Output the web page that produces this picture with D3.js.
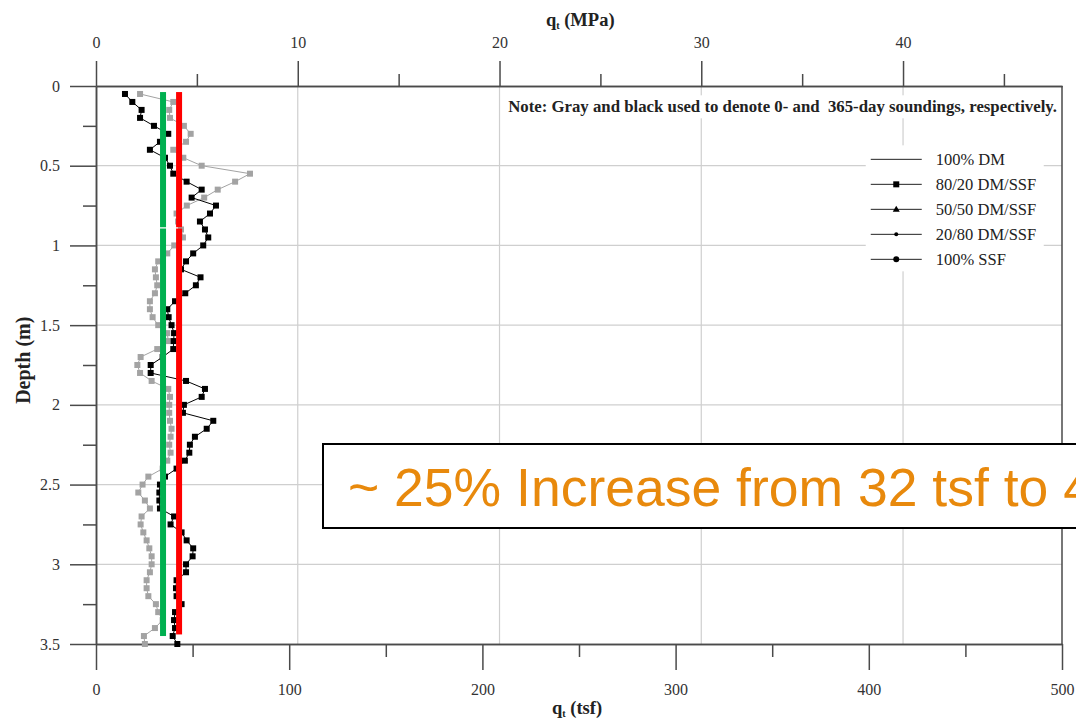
<!DOCTYPE html>
<html>
<head>
<meta charset="utf-8">
<script src="https://cdn.jsdelivr.net/npm/d3@7"></script>
<style>
  body { margin: 0; background: #fff; }
  svg { display: block; overflow: hidden; }
</style>
</head>
<body>
<div id="chart"></div>
<script>
// depth of each sounding reading (m)
const depths = [0.05,0.10,0.15,0.20,0.25,0.30,0.35,0.40,0.45,0.50,0.55,0.60,0.65,0.70,0.75,0.80,0.85,0.90,0.95,1.00,
  1.05,1.10,1.15,1.20,1.25,1.30,1.35,1.40,1.45,1.50,1.55,1.60,1.65,1.70,1.75,1.80,1.85,1.90,1.95,2.00,
  2.05,2.10,2.15,2.20,2.25,2.30,2.35,2.40,2.45,2.50,2.55,2.60,2.65,2.70,2.75,2.80,2.85,2.90,2.95,3.00,
  3.05,3.10,3.15,3.20,3.25,3.30,3.35,3.40,3.45,3.50];

// qt (tsf), 0-day sounding (gray)
const day0 = [22.8,40.0,37.9,38.3,45.5,49.0,46.6,40.0,45.2,54.7,79.7,72.0,63.0,56.0,47.0,41.7,42.5,44.0,45.0,40.5,
  36.9,32.2,30.5,31.0,31.7,30.5,27.9,27.9,29.3,32.2,36.9,37.4,31.7,23.1,21.4,22.8,28.8,37.4,38.3,37.9,
  37.9,38.3,39.1,38.6,37.9,38.6,36.9,34.5,27.1,24.1,21.9,25.3,27.9,23.6,23.1,24.5,26.2,27.6,28.8,28.8,
  27.9,26.2,26.2,27.1,31.0,32.2,34.5,30.5,24.8,25.3];

// qt (tsf), 365-day sounding (black)
const day365 = [15.0,18.8,23.6,22.8,30.0,37.4,33.1,27.9,35.7,38.3,40.0,46.9,54.7,49.5,62.1,59.0,53.8,56.4,58.1,55.5,
  50.3,46.6,44.0,54.1,51.7,46.2,40.9,36.9,37.6,39.1,40.4,40.2,40.0,34.5,28.3,28.3,46.6,56.4,54.7,45.5,
  45.0,60.7,57.3,51.2,48.6,48.3,46.0,41.7,35.7,33.1,32.8,32.8,33.1,40.4,38.6,44.3,46.9,50.3,50.0,46.6,
  46.6,41.7,41.4,41.7,44.3,40.9,40.4,40.9,39.7,42.1];

// average qt markers (tsf) and the depth spans they are drawn over
const avgLines = [
  {name: "0-day", tsf: 34.7, color: "#00B050", spans: [[0.038, 0.886], [0.894, 3.45]]},
  {name: "365-day", tsf: 43.0, color: "#FF0000", spans: [[0.038, 0.886], [0.894, 3.44]]}
];

const legendItems = ["100% DM", "80/20 DM/SSF", "50/50 DM/SSF", "20/80 DM/SSF", "100% SSF"];
const legendMarkers = ["none", "square", "triangle", "dot", "circle"];

const tsfTicks = [0, 100, 200, 300, 400, 500];
const tsfMinor = [50, 150, 250, 350, 450];
const mpaTicks = [0, 10, 20, 30, 40];
const mpaMinor = [5, 15, 25, 35, 45];
const depthTicks = [0, 0.5, 1, 1.5, 2, 2.5, 3, 3.5];
const depthMinor = [0.25, 0.75, 1.25, 1.75, 2.25, 2.75, 3.25];

const MPA_TO_TSF = 10.443;

const noteText = "Note: Gray and black used to denote 0- and  365-day soundings, respectively.";
const calloutText = "~ 25% Increase from 32 tsf to 40 tsf";

function drawChart() {
    const W = 1076, H = 723;
    const margin = {top: 86, right: 14, bottom: 79, left: 96};
    const width = W - margin.left - margin.right,
        height = H - margin.top - margin.bottom;
    const serif = "'Liberation Serif', 'Times New Roman', serif";
    const axisColor = "#4a4a4a";

    const svg = d3.select("#chart")
        .append("svg")
            .attr("width", W)
            .attr("height", H);

    const g = svg.append("g")
        .attr("transform", "translate(" + margin.left + "," + margin.top + ")");

    const x = d3.scaleLinear().domain([0, 500]).range([0, width]);
    const xMpa = d3.scaleLinear().domain([0, 500 / MPA_TO_TSF]).range([0, width]);
    const y = d3.scaleLinear().domain([0, 3.5]).range([0, height]);

    // grid
    g.selectAll(".hgrid")
        .data(depthTicks.slice(1, -1))
        .join("line")
            .attr("class", "hgrid")
            .attr("x1", 0).attr("x2", width)
            .attr("y1", d => y(d)).attr("y2", d => y(d))
            .attr("stroke", "#cfcfcf").attr("stroke-width", 1.2);
    g.selectAll(".vgrid")
        .data(mpaTicks.slice(1))
        .join("line")
            .attr("class", "vgrid")
            .attr("x1", d => xMpa(d)).attr("x2", d => xMpa(d))
            .attr("y1", 0).attr("y2", height)
            .attr("stroke", "#cfcfcf").attr("stroke-width", 1.2);

    // right border
    g.append("line")
        .attr("x1", width).attr("x2", width)
        .attr("y1", 0).attr("y2", height)
        .attr("stroke", axisColor).attr("stroke-width", 1.5);

    const styleAxis = sel => {
        sel.select(".domain").attr("stroke", axisColor).attr("stroke-width", 1.5);
        sel.selectAll(".tick line").attr("stroke", axisColor).attr("stroke-width", 1.5);
        sel.selectAll(".tick text")
            .style("font-family", serif)
            .style("font-size", "16px")
            .attr("fill", "#333");
    };

    // bottom (tsf)
    g.append("g")
        .attr("transform", "translate(0," + height + ")")
        .call(d3.axisBottom(x).tickValues(tsfMinor).tickSize(13).tickSizeOuter(0).tickFormat(""))
        .call(styleAxis);
    g.append("g")
        .attr("transform", "translate(0," + height + ")")
        .call(d3.axisBottom(x).tickValues(tsfTicks).tickSize(26).tickSizeOuter(0).tickPadding(14))
        .call(styleAxis);

    // top (MPa)
    g.append("g")
        .call(d3.axisTop(xMpa).tickValues(mpaMinor).tickSize(12).tickSizeOuter(0).tickFormat(""))
        .call(styleAxis);
    g.append("g")
        .call(d3.axisTop(xMpa).tickValues(mpaTicks).tickSize(25).tickSizeOuter(0).tickPadding(13))
        .call(styleAxis);

    // left (depth)
    g.append("g")
        .call(d3.axisLeft(y).tickValues(depthMinor).tickSize(13).tickSizeOuter(0).tickFormat(""))
        .call(styleAxis);
    g.append("g")
        .call(d3.axisLeft(y).tickValues(depthTicks).tickSize(26).tickSizeOuter(0).tickPadding(10)
            .tickFormat(d => d === 0 ? "0" : d3.format("")(d)))
        .call(styleAxis);

    // soundings
    const series = [
        {key: "0-day", values: day0, color: "#a3a3a3"},
        {key: "365-day", values: day365, color: "#000"}
    ];
    const line = d3.line()
        .x(d => x(d.q))
        .y(d => y(d.z));

    series.forEach(s => {
        const pts = depths.map((z, i) => ({z: z, q: s.values[i]}));
        g.append("path")
            .datum(pts)
            .attr("fill", "none")
            .attr("stroke", s.color)
            .attr("stroke-width", 1)
            .attr("d", line);
        g.selectAll(".pt-" + s.key)
            .data(pts)
            .join("rect")
                .attr("class", "pt-" + s.key)
                .attr("x", d => x(d.q) - 3)
                .attr("y", d => y(d.z) - 3)
                .attr("width", 6)
                .attr("height", 6)
                .attr("fill", s.color);
    });

    // note
    const note = g.append("g");
    const noteT = note.append("text")
        .attr("x", width - 5)
        .attr("y", y(0.165))
        .attr("text-anchor", "end")
        .style("font-family", serif)
        .style("font-weight", "bold")
        .style("font-size", "16.8px")
        .style("white-space", "pre")
        .attr("fill", "#222")
        .text(noteText);
    const nb = noteT.node().getBBox();
    note.insert("rect", "text")
        .attr("x", nb.x - 4).attr("y", nb.y - 2)
        .attr("width", nb.width + 8).attr("height", nb.height + 4)
        .attr("fill", "#fff");

    // legend
    const lg = g.append("g")
        .attr("transform", "translate(" + (xMpa(38.4)) + "," + y(0.46) + ")");
    lg.append("rect")
        .attr("x", -5).attr("y", -14)
        .attr("width", 178).attr("height", 126)
        .attr("fill", "#fff");
    const rows = lg.selectAll(".leg")
        .data(legendItems)
        .join("g")
            .attr("class", "leg")
            .attr("transform", (d, i) => "translate(0," + (i * 25) + ")");
    rows.append("line")
        .attr("x1", 0).attr("x2", 51)
        .attr("stroke", "#222").attr("stroke-width", 1);
    rows.each(function(d, i) {
        const r = d3.select(this);
        const m = legendMarkers[i];
        if (m === "square") {
            r.append("rect").attr("x", 22.5).attr("y", -3).attr("width", 6).attr("height", 6).attr("fill", "#000");
        } else if (m === "triangle") {
            r.append("path").attr("d", "M25.5,-3.5L29,2.5L22,2.5Z").attr("fill", "#000");
        } else if (m === "dot") {
            r.append("circle").attr("cx", 25.5).attr("cy", 0).attr("r", 2).attr("fill", "#000");
        } else if (m === "circle") {
            r.append("circle").attr("cx", 25.5).attr("cy", 0).attr("r", 3).attr("fill", "#000");
        }
    });
    rows.append("text")
        .attr("x", 65)
        .attr("y", 0)
        .attr("dy", "0.35em")
        .style("font-family", serif)
        .style("font-size", "16.5px")
        .attr("fill", "#222")
        .text(d => d);

    // average markers
    avgLines.forEach(a => {
        g.selectAll(".avg-" + a.name)
            .data(a.spans)
            .join("rect")
                .attr("class", "avg-" + a.name)
                .attr("x", x(a.tsf) - 3)
                .attr("y", d => y(d[0]))
                .attr("width", 6)
                .attr("height", d => y(d[1]) - y(d[0]))
                .attr("fill", a.color);
    });

    // axis titles
    const addTitle = (tx, ty, rot, size, main, sub, rest) => {
        const t = svg.append("text")
            .attr("transform", "translate(" + tx + "," + ty + ") rotate(" + rot + ")")
            .attr("text-anchor", "middle")
            .style("font-family", serif)
            .style("font-weight", "bold")
            .style("font-size", size + "px")
            .attr("fill", "#222");
        t.append("tspan").text(main);
        if (sub) t.append("tspan").attr("dy", 3).style("font-size", (size * 0.55) + "px").text(sub);
        t.append("tspan").attr("dy", sub ? -3 : 0).text(rest);
    };
    addTitle(margin.left + xMpa(24.0), 26, 0, 18.5, "q", "t", " (MPa)");
    addTitle(margin.left + x(249), 714, 0, 18.5, "q", "t", " (tsf)");
    addTitle(30, margin.top + y(1.72), -90, 20, "Depth (m)", null, "");

    // callout box
    const cb = svg.append("g");
    cb.append("rect")
        .attr("x", 323).attr("y", 444)
        .attr("width", 800).attr("height", 84)
        .attr("fill", "#fff")
        .attr("stroke", "#000")
        .attr("stroke-width", 2);
    cb.append("text")
        .attr("x", 348).attr("y", 506)
        .style("font-family", "'Liberation Sans', Arial, sans-serif")
        .style("font-size", "53.5px")
        .attr("fill", "#E8890C")
        .text(calloutText);
}

drawChart();
</script>
</body>
</html>
